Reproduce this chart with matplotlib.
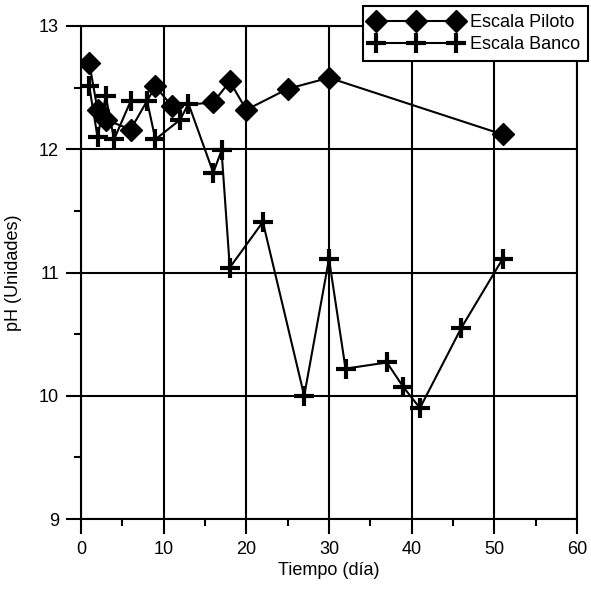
import matplotlib
matplotlib.use("Agg")
import matplotlib.pyplot as plt
from matplotlib.ticker import MultipleLocator

plt.rcParams['font.family'] = ['Liberation Sans', 'DejaVu Sans']

# Data
piloto_x = [1, 2, 3, 6, 9, 11, 16, 18, 20, 25, 30, 51]
piloto_y = [12.70, 12.32, 12.24, 12.16, 12.51, 12.35, 12.38, 12.55, 12.32, 12.49, 12.58, 12.12]

banco_x = [1, 2, 3, 4, 6, 8, 9, 12, 13, 16, 17, 18, 22, 27, 30, 32, 37, 39, 41, 46, 51]
banco_y = [12.51, 12.10, 12.43, 12.08, 12.39, 12.39, 12.08, 12.24, 12.37, 11.81, 11.99, 11.04,
           11.41, 10.00, 11.11, 10.22, 10.27, 10.07, 9.90, 10.55, 11.11]

x_ticks = [0, 10, 20, 30, 40, 50, 60]
y_ticks = [9, 10, 11, 12, 13]

fig = plt.figure(figsize=(5.91, 5.89), dpi=100)
ax = fig.add_axes([81/591, 1-519/589, (577-81)/591, (519-26)/589])

ax.plot(piloto_x, piloto_y, color='black', lw=1.5, marker='D', markersize=11,
        label='Escala Piloto', zorder=4)
ax.plot(banco_x, banco_y, color='black', lw=1.5, marker='+', markersize=15,
        markeredgewidth=3, label='Escala Banco', zorder=5)

ax.set_xlim(0, 60)
ax.set_ylim(9, 13)
ax.set_xticks(x_ticks)
ax.set_yticks(y_ticks)
ax.xaxis.set_minor_locator(MultipleLocator(5))
ax.yaxis.set_minor_locator(MultipleLocator(0.5))
ax.grid(True, which='major', color='black', lw=1.5)
ax.set_axisbelow(True)
for s in ax.spines.values():
    s.set_linewidth(1.5)
ax.tick_params(which='major', length=11, width=1.5, labelsize=13, direction='out', pad=5)
ax.tick_params(which='minor', length=5, width=1.5, direction='out')

ax.set_xlabel('Tiempo (día)', fontsize=13, labelpad=3)
ax.set_ylabel('pH (Unidades)', fontsize=13, labelpad=12)

leg = fig.legend(loc='upper right', bbox_to_anchor=(590/591, 1-4/589), fontsize=13,
                 frameon=True, fancybox=False, edgecolor='black', framealpha=1,
                 numpoints=3, handlelength=5.0, borderpad=0.45, labelspacing=0.3,
                 handletextpad=0.5, borderaxespad=0.1)
leg.get_frame().set_linewidth(1.5)

fig.savefig('out.png', dpi=100)
